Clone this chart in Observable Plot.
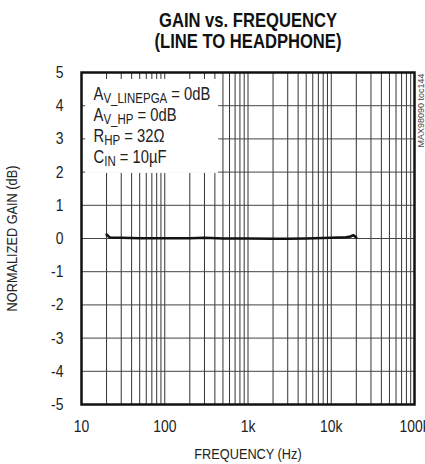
<!DOCTYPE html>
<html>
<head>
<meta charset="utf-8">
<script src="https://cdn.jsdelivr.net/npm/d3@7"></script>
<script src="https://cdn.jsdelivr.net/npm/@observablehq/plot@0.6"></script>
<style>
  body { margin: 0; background: #fff; }
  #chart { width: 425px; height: 464px; }
</style>
</head>
<body>
<div id="chart"></div>
<script>
// Data
const freqHz = [20, 21, 22, 25, 30, 50, 100, 200, 300, 500, 1000, 2000, 3000, 5000, 10000, 15000, 17000, 18500, 20000];
const gainDb = [0.12, 0.07, 0.03, 0.02, 0.02, 0.01, 0.01, 0.01, 0.02, 0.0, 0.0, -0.01, -0.01, 0.0, 0.02, 0.04, 0.06, 0.1, 0.03];
const xTickValues = [10, 100, 1000, 10000, 100000];
const xTickLabels = ["10", "100", "1k", "10k", "100k"];
const yTickValues = [-5, -4, -3, -2, -1, 0, 1, 2, 3, 4, 5];
const titleText = "GAIN vs. FREQUENCY\n(LINE TO HEADPHONE)";
const xLabel = "FREQUENCY (Hz)";
const yLabel = "NORMALIZED GAIN (dB)";
const sideNote = "MAX98090 toc144";
const legendLines = [
  ["A", "V_LINEPGA", " = 0dB"],
  ["A", "V_HP", " = 0dB"],
  ["R", "HP", " = 32\u03A9"],
  ["C", "IN", " = 10\u00B5F"]
];

const data = freqHz.map((f, i) => ({f, g: gainDb[i]}));
const xLabelMap = new Map(xTickValues.map((v, i) => [v, xTickLabels[i]]));
const font = "'Liberation Sans', Arial, sans-serif";

const chart = Plot.plot({
  width: 425,
  height: 464,
  marginLeft: 81,
  marginRight: 11,
  marginTop: 72,
  marginBottom: 60,
  style: {fontFamily: font, fontSize: "17px", background: "#fff", color: "#222"},
  x: {type: "log", domain: [10, 100000]},
  y: {domain: [-5, 5]},
  marks: [
    Plot.gridX({stroke: "#333", strokeOpacity: 1, strokeWidth: 1}),
    Plot.gridY(yTickValues, {stroke: "#444", strokeOpacity: 1, strokeWidth: 1}),
    Plot.rect([0], {x1: 11.2, x2: 444, y1: 1.96, y2: 4.79, fill: "white"}),
    Plot.line(data, {x: "f", y: "g", stroke: "#111", strokeWidth: 2.5}),
    Plot.frame({stroke: "#111", strokeWidth: 2.5}),
    Plot.axisX({ticks: xTickValues, tickFormat: d => xLabelMap.get(d), tickSize: 0, tickPadding: 15, label: null, fontSize: 17}),
    Plot.axisY({ticks: yTickValues, tickSize: 0, tickPadding: 18, label: null, fontSize: 17, tickFormat: d => d < 0 ? "-" + Math.abs(d) : String(d)}),
    Plot.text([xLabel], {frameAnchor: "bottom", dy: 50, textAnchor: "middle", lineAnchor: "middle", fontSize: 15, fill: "#222"}),
    Plot.text([yLabel], {frameAnchor: "left", dx: -69, rotate: -90, textAnchor: "middle", lineAnchor: "middle", fontSize: 15, fill: "#222"}),
    Plot.text([titleText], {frameAnchor: "top", dy: -42, textAnchor: "middle", lineAnchor: "middle", fontSize: 21, fontWeight: "bold", lineHeight: 1.03, fill: "#111"}),
    Plot.text([sideNote], {frameAnchor: "top-right", dx: 7, dy: 1, rotate: -90, textAnchor: "end", lineAnchor: "middle", fontSize: 9, fill: "#444"})
  ]
});

document.getElementById("chart").appendChild(chart);
const svg = d3.select(chart);

// Narrow the lettering (reference uses a condensed face)
function condense(el, s) {
  const bb = el.getBBox();
  const anchor = getComputedStyle(el).textAnchor;
  const ax = anchor === "start" ? bb.x : anchor === "end" ? bb.x + bb.width : bb.x + bb.width / 2;
  const t = el.getAttribute("transform") || "";
  el.setAttribute("transform", `${t} translate(${ax},0) scale(${s},1) translate(${-ax},0)`);
}
svg.selectAll('g[aria-label="x-axis tick label"] text').each(function() { condense(this, 0.82); });
svg.selectAll('g[aria-label="y-axis tick label"] text').each(function() { condense(this, 0.82); });
const textGroups = svg.selectAll('g[aria-label="text"]').nodes();
condense(textGroups[0].querySelector("text"), 0.85);
condense(textGroups[1].querySelector("text"), 0.85);
{
  const tEl = textGroups[2].querySelector("text");
  condense(tEl, 187 / tEl.getBBox().width);
}

// Legend with subscripts
const lg = svg.append("g").attr("font-family", font).attr("fill", "#222").attr("text-anchor", "start");
let legendScale = null;
legendLines.forEach((parts, i) => {
  const t = lg.append("text").attr("x", 0).attr("y", 0).attr("font-size", 18);
  t.append("tspan").text(parts[0]);
  t.append("tspan").attr("font-size", 14).attr("dy", 3).text(parts[1]);
  t.append("tspan").attr("dy", -3).text(parts[2]);
  if (legendScale === null) legendScale = 117 / t.node().getBBox().width;
  t.attr("transform", `translate(93.5,${100 + i * 21}) scale(${legendScale},1)`);
});
</script>
</body>
</html>
